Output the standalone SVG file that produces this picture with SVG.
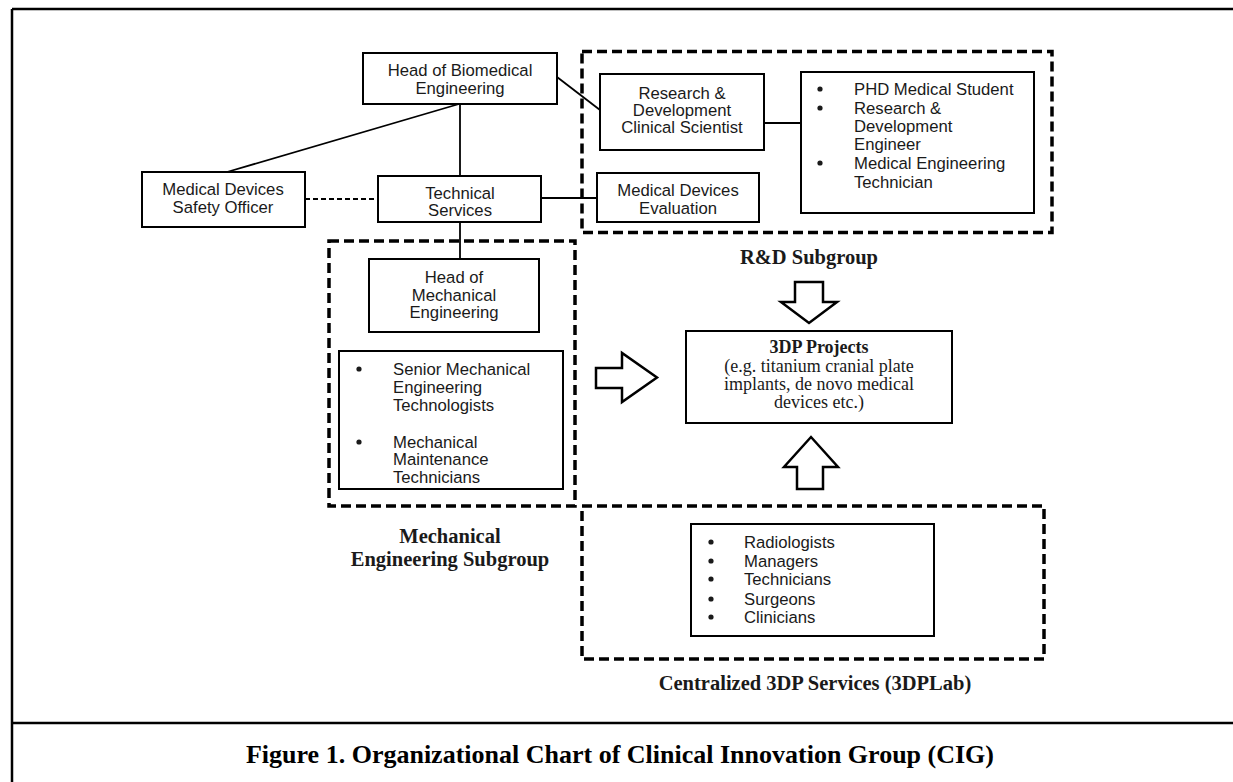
<svg xmlns="http://www.w3.org/2000/svg" width="1233" height="782" viewBox="0 0 1233 782">
<defs>
<style>
.box{fill:#fff;stroke:#000;stroke-width:2}
.grp{fill:none;stroke:#000;stroke-width:3.5;stroke-dasharray:10 5}
.ln{stroke:#000;stroke-width:1.8;fill:none}
.dl{stroke:#000;stroke-width:1.8;fill:none;stroke-dasharray:5 3}
.fr{stroke:#000;stroke-width:2.5;fill:none}
.arw{fill:#fff;stroke:#000;stroke-width:2.5;stroke-linejoin:miter}
.t{font-family:"Liberation Sans",Arial,sans-serif;font-size:16.7px;fill:#1a1a1a}
.c{text-anchor:middle}
.s{font-family:"Liberation Serif","Times New Roman",serif;font-size:18px;fill:#1a1a1a;text-anchor:middle}
.lb{font-family:"Liberation Serif","Times New Roman",serif;font-size:20.5px;font-weight:bold;fill:#1a1a1a;text-anchor:middle}
.bul{fill:#1a1a1a}
</style>
</defs>
<rect width="1233" height="782" fill="#fff"/>
<g id="frame">
<line class="fr" x1="12" y1="9" x2="12" y2="782"/>
<line class="fr" x1="12" y1="9" x2="1233" y2="9"/>
<line class="fr" x1="12" y1="723" x2="1233" y2="723"/>
</g>
<g id="connectors">
<line class="ln" x1="459" y1="104" x2="227" y2="172"/>
<line class="ln" x1="460" y1="104" x2="460" y2="176"/>
<line class="ln" x1="460" y1="222" x2="460" y2="259"/>
<line class="dl" x1="305" y1="199" x2="378" y2="199"/>
<line class="ln" x1="541" y1="198" x2="597" y2="198"/>
<line class="ln" x1="557" y1="77" x2="600" y2="110"/>
<line class="ln" x1="764" y1="123" x2="801" y2="123"/>
</g>
<g id="rd-subgroup">
<rect class="grp" x="582" y="51.5" width="470" height="181"/>
<text class="lb" x="809" y="264">R&amp;D Subgroup</text>
</g>
<g id="mech-subgroup">
<rect class="grp" x="329" y="241" width="246" height="265"/>
<text class="lb" x="450" y="543">Mechanical</text>
<text class="lb" x="450" y="566">Engineering Subgroup</text>
</g>
<g id="lab-subgroup">
<rect class="grp" x="582" y="506" width="462" height="153"/>
<text class="lb" x="815" y="690">Centralized 3DP Services (3DPLab)</text>
</g>
<g id="head-biomed">
<rect class="box" x="363" y="53" width="194" height="51"/>
<text class="t c" x="460" y="76">Head of Biomedical</text>
<text class="t c" x="460" y="94">Engineering</text>
</g>
<g id="safety-officer">
<rect class="box" x="142" y="172" width="163" height="55"/>
<text class="t c" x="223" y="195">Medical Devices</text>
<text class="t c" x="223" y="213">Safety Officer</text>
</g>
<g id="technical-services">
<rect class="box" x="378" y="176" width="163" height="46"/>
<text class="t c" x="460" y="199">Technical</text>
<text class="t c" x="460" y="216">Services</text>
</g>
<g id="rd-scientist">
<rect class="box" x="600" y="74" width="164" height="76"/>
<text class="t c" x="682" y="99">Research &amp;</text>
<text class="t c" x="682" y="116">Development</text>
<text class="t c" x="682" y="133">Clinical Scientist</text>
</g>
<g id="rd-staff">
<rect class="box" x="801" y="72" width="233" height="141"/>
<circle class="bul" cx="820" cy="89" r="2.6"/>
<circle class="bul" cx="820" cy="108" r="2.6"/>
<circle class="bul" cx="820" cy="163" r="2.6"/>
<text class="t" x="854" y="95">PHD Medical Student</text>
<text class="t" x="854" y="114">Research &amp;</text>
<text class="t" x="854" y="132">Development</text>
<text class="t" x="854" y="150">Engineer</text>
<text class="t" x="854" y="169">Medical Engineering</text>
<text class="t" x="854" y="188">Technician</text>
</g>
<g id="device-evaluation">
<rect class="box" x="597" y="173" width="162" height="49"/>
<text class="t c" x="678" y="196">Medical Devices</text>
<text class="t c" x="678" y="214">Evaluation</text>
</g>
<g id="head-mech">
<rect class="box" x="369" y="259" width="170" height="73"/>
<text class="t c" x="454" y="283">Head of</text>
<text class="t c" x="454" y="301">Mechanical</text>
<text class="t c" x="454" y="318">Engineering</text>
</g>
<g id="mech-staff">
<rect class="box" x="339" y="351" width="224" height="138"/>
<circle class="bul" cx="359" cy="369" r="2.6"/>
<circle class="bul" cx="359" cy="442" r="2.6"/>
<text class="t" x="393" y="375">Senior Mechanical</text>
<text class="t" x="393" y="393">Engineering</text>
<text class="t" x="393" y="411">Technologists</text>
<text class="t" x="393" y="448">Mechanical</text>
<text class="t" x="393" y="465">Maintenance</text>
<text class="t" x="393" y="483">Technicians</text>
</g>
<g id="projects">
<rect class="box" x="686" y="331" width="266" height="92"/>
<text class="s" x="819" y="353" font-weight="bold" font-size="19">3DP Projects</text>
<text class="s" x="819" y="372">(e.g. titanium cranial plate</text>
<text class="s" x="819" y="390">implants, de novo medical</text>
<text class="s" x="819" y="408">devices etc.)</text>
</g>
<g id="lab-staff">
<rect class="box" x="691" y="524" width="243" height="112"/>
<circle class="bul" cx="711" cy="542" r="2.6"/>
<circle class="bul" cx="711" cy="561" r="2.6"/>
<circle class="bul" cx="711" cy="579" r="2.6"/>
<circle class="bul" cx="711" cy="599" r="2.6"/>
<circle class="bul" cx="711" cy="617" r="2.6"/>
<text class="t" x="744" y="548">Radiologists</text>
<text class="t" x="744" y="567">Managers</text>
<text class="t" x="744" y="585">Technicians</text>
<text class="t" x="744" y="605">Surgeons</text>
<text class="t" x="744" y="623">Clinicians</text>
</g>
<g id="arrows">
<polygon class="arw" points="596,368 622,368 622,353 657,377.5 622,402 622,388 596,388"/>
<polygon class="arw" points="795,282 823,282 823,302 837,302 809,323 781,302 795,302"/>
<polygon class="arw" points="797,489 823,489 823,467 838,467 811,437 784,467 797,467"/>
</g>
<g id="caption">
<text x="620" y="763" font-family="'Liberation Serif','Times New Roman',serif" font-size="26" font-weight="bold" fill="#000" text-anchor="middle">Figure 1. Organizational Chart of Clinical Innovation Group (CIG)</text>
</g>
</svg>
